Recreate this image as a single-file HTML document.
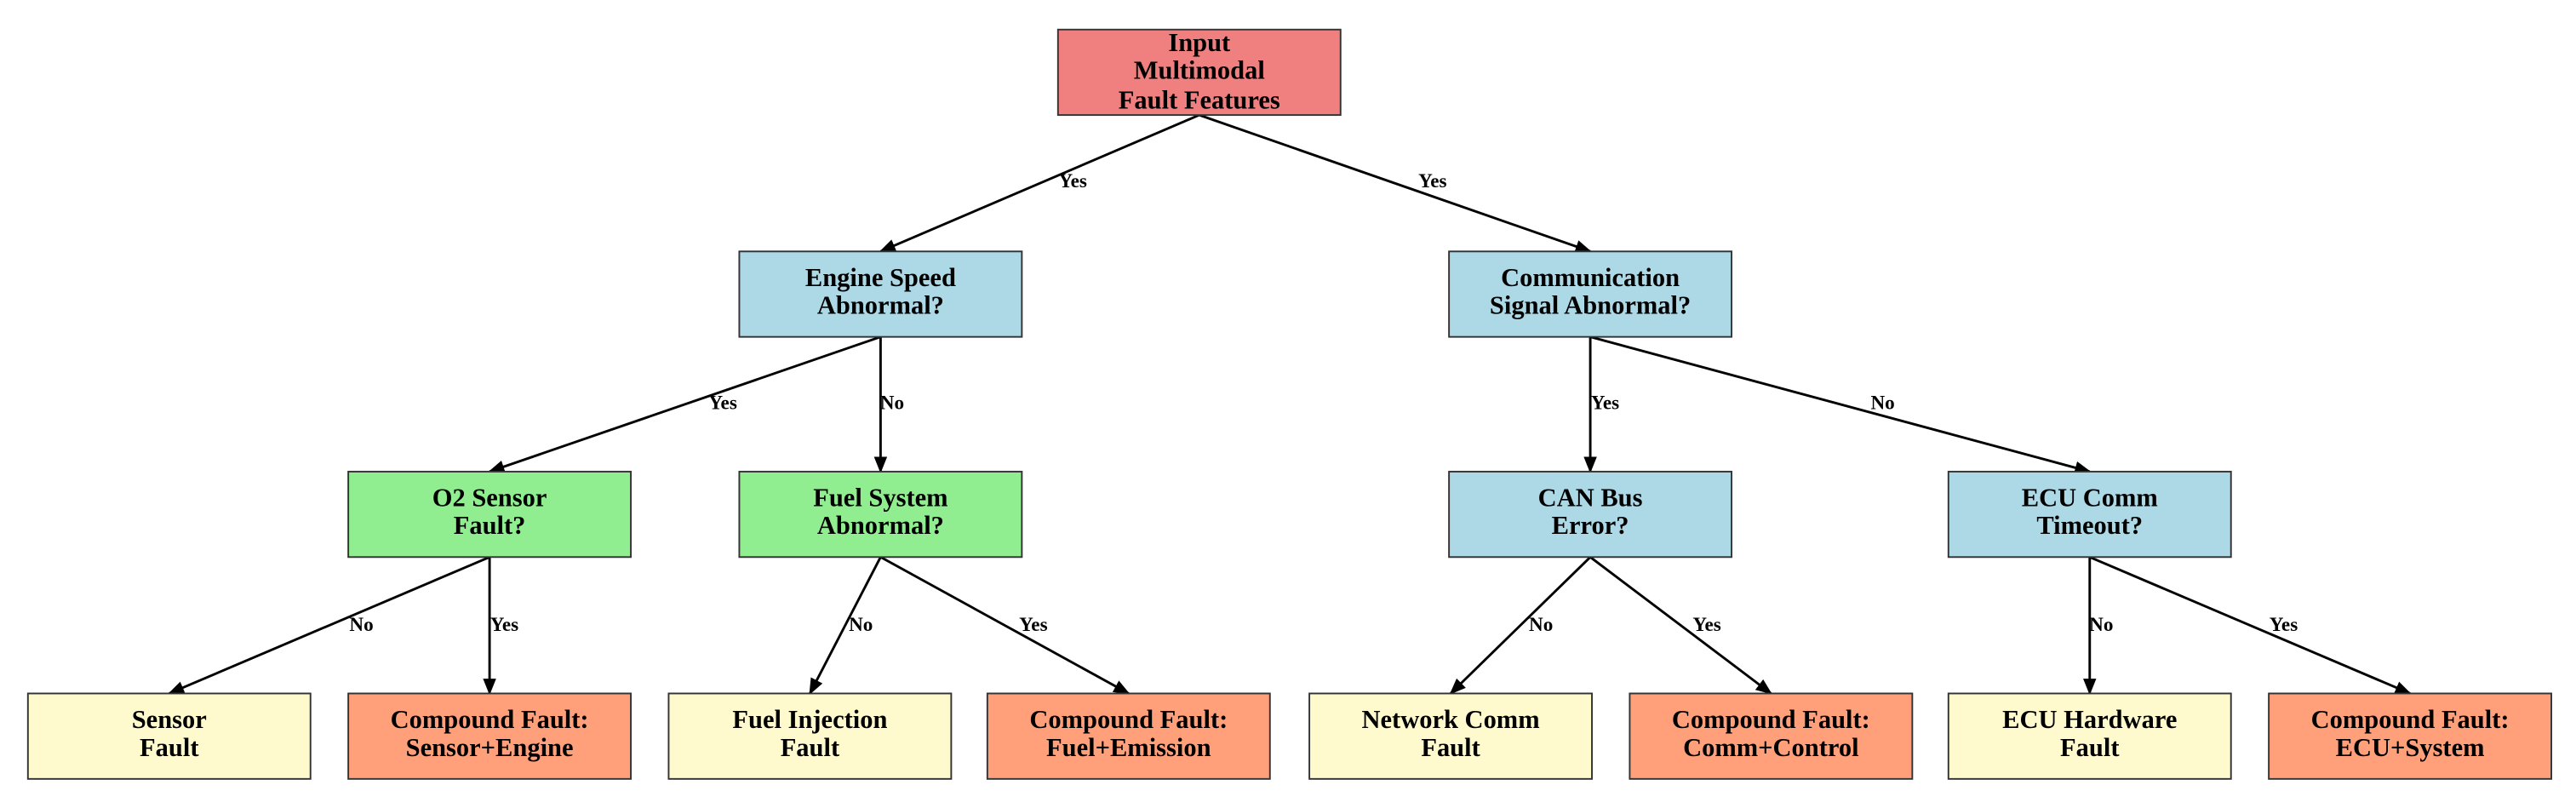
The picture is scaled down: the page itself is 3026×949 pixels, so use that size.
<!DOCTYPE html>
<html><head><meta charset="utf-8"><style>
html,body{margin:0;padding:0;background:#fff;}
svg{display:block;}
text{font-family:"Liberation Serif",serif;font-weight:bold;fill:#000;}
</style></head><body>
<svg width="3026" height="949" viewBox="0 0 1568 491.7" preserveAspectRatio="none" xmlns="http://www.w3.org/2000/svg">
<defs><marker id="a" markerWidth="10" markerHeight="8" refX="9" refY="4" orient="auto" markerUnits="userSpaceOnUse"><path d="M0,0 L10,4 L0,8 z" fill="#000"/></marker></defs>
<g stroke="#000" stroke-width="1.5" marker-end="url(#a)">
<line x1="730" y1="70" x2="536" y2="153"/>
<line x1="730" y1="70" x2="968" y2="153"/>
<line x1="536" y1="205" x2="298" y2="287"/>
<line x1="536" y1="205" x2="536" y2="287"/>
<line x1="968" y1="205" x2="968" y2="287"/>
<line x1="968" y1="205" x2="1272" y2="287"/>
<line x1="298" y1="339" x2="103" y2="422"/>
<line x1="298" y1="339" x2="298" y2="422"/>
<line x1="536" y1="339" x2="493" y2="422"/>
<line x1="536" y1="339" x2="687" y2="422"/>
<line x1="968" y1="339" x2="883" y2="422"/>
<line x1="968" y1="339" x2="1078" y2="422"/>
<line x1="1272" y1="339" x2="1272" y2="422"/>
<line x1="1272" y1="339" x2="1467" y2="422"/>
</g>
<g font-size="12" text-anchor="middle">
<text x="653" y="114">Yes</text><text x="872" y="114">Yes</text>
<text x="440" y="249">Yes</text><text x="543" y="249">No</text>
<text x="977" y="249">Yes</text><text x="1146" y="249">No</text>
<text x="220" y="384">No</text><text x="307" y="384">Yes</text>
<text x="524" y="384">No</text><text x="629" y="384">Yes</text>
<text x="938" y="384">No</text><text x="1039" y="384">Yes</text>
<text x="1279" y="384">No</text><text x="1390" y="384">Yes</text>
</g>
<g stroke="#333" stroke-width="1">
<rect x="644" y="18" width="172" height="52" fill="#f08080"/>
<rect x="450" y="153" width="172" height="52" fill="#add8e6"/>
<rect x="882" y="153" width="172" height="52" fill="#add8e6"/>
<rect x="212" y="287" width="172" height="52" fill="#90ee90"/>
<rect x="450" y="287" width="172" height="52" fill="#90ee90"/>
<rect x="882" y="287" width="172" height="52" fill="#add8e6"/>
<rect x="1186" y="287" width="172" height="52" fill="#add8e6"/>
<rect x="17" y="422" width="172" height="52" fill="#fffacd"/>
<rect x="212" y="422" width="172" height="52" fill="#ffa07a"/>
<rect x="407" y="422" width="172" height="52" fill="#fffacd"/>
<rect x="601" y="422" width="172" height="52" fill="#ffa07a"/>
<rect x="797" y="422" width="172" height="52" fill="#fffacd"/>
<rect x="992" y="422" width="172" height="52" fill="#ffa07a"/>
<rect x="1186" y="422" width="172" height="52" fill="#fffacd"/>
<rect x="1381" y="422" width="172" height="52" fill="#ffa07a"/>
</g>
<g font-size="15.8" text-anchor="middle">
<text x="730" y="31">Input</text><text x="730" y="48">Multimodal</text><text x="730" y="66">Fault Features</text>
<text x="536" y="174">Engine Speed</text><text x="536" y="191">Abnormal?</text>
<text x="968" y="174">Communication</text><text x="968" y="191">Signal Abnormal?</text>
<text x="298" y="308">O2 Sensor</text><text x="298" y="325">Fault?</text>
<text x="536" y="308">Fuel System</text><text x="536" y="325">Abnormal?</text>
<text x="968" y="308">CAN Bus</text><text x="968" y="325">Error?</text>
<text x="1272" y="308">ECU Comm</text><text x="1272" y="325">Timeout?</text>
<text x="103" y="443">Sensor</text><text x="103" y="460">Fault</text>
<text x="298" y="443">Compound Fault:</text><text x="298" y="460">Sensor+Engine</text>
<text x="493" y="443">Fuel Injection</text><text x="493" y="460">Fault</text>
<text x="687" y="443">Compound Fault:</text><text x="687" y="460">Fuel+Emission</text>
<text x="883" y="443">Network Comm</text><text x="883" y="460">Fault</text>
<text x="1078" y="443">Compound Fault:</text><text x="1078" y="460">Comm+Control</text>
<text x="1272" y="443">ECU Hardware</text><text x="1272" y="460">Fault</text>
<text x="1467" y="443">Compound Fault:</text><text x="1467" y="460">ECU+System</text>
</g>
</svg>
</body></html>
